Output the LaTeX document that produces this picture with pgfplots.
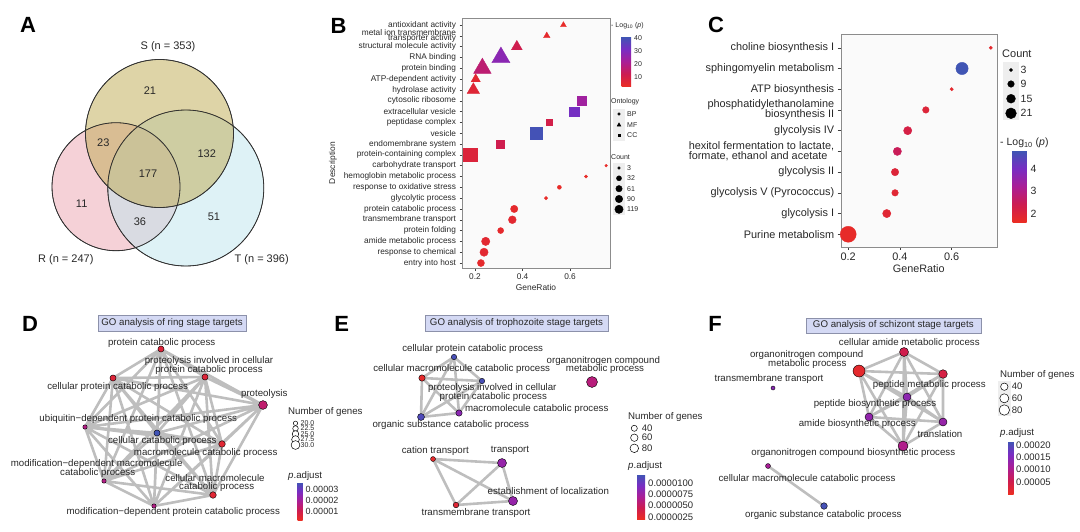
\documentclass[border=0pt]{standalone}
\usepackage{fontspec}
\setmainfont{Liberation Sans}
\usepackage{pgfplots}
\pgfplotsset{compat=1.18}

\newcommand\fsz[2]{\fontsize{#1}{#2}\selectfont}
% two-line tick labels with tight line spacing
\newcommand\twoR[3]{\vbox{\baselineskip=#1\lineskiplimit=-\maxdimen\lineskip=0pt\halign{\hfil##\cr#2\cr#3\cr}}}
\newcommand\twoL[3]{\vbox{\baselineskip=#1\lineskiplimit=-\maxdimen\lineskip=0pt\halign{##\hfil\cr#2\cr#3\cr}}}

\definecolor{vennS}{RGB}{190,170,80}
\definecolor{vennR}{RGB}{236,163,176}
\definecolor{vennT}{RGB}{190,229,237}
\definecolor{edge}{RGB}{190,190,190}
\definecolor{titlebox}{RGB}{212,217,244}
\definecolor{titleedge}{RGB}{140,145,170}
\definecolor{keybg}{RGB}{238,238,238}
\definecolor{txt}{RGB}{40,40,40}

\pgfplotsset{
  every axis/.append style={/pgf/number format/assume math mode=true},
  colormap={gg}{rgb255=(235,45,35) rgb255=(205,28,80) rgb255=(170,30,150) rgb255=(120,45,195) rgb255=(62,86,180)},
  canvas/.style={hide axis, scale only axis, width=1080pt, height=532pt,
    xmin=0, xmax=1080, ymin=0, ymax=532, y dir=reverse, clip=false,
    at={(0pt,0pt)}, anchor=north west},
  netnode/.style={scatter, only marks, mark=*, point meta=\thisrow{p},
    scatter/use mapped color={draw=black, fill=mapped color},
    mark options={line width=0.4pt},
    scatter/@pre marker code/.append style={/tikz/mark size=\msz}},
  netlab/.style={draw=none, mark=none, point meta=explicit symbolic, nodes near coords,
    every node near coord/.append style={anchor=center, inner sep=0pt, font=\fsz{9.7}{10}, text=txt}},
  netedge/.style={draw=edge, line width=2.6pt, line join=round, line cap=round, mark=none},
  cbar/.style={at={(parent axis.north west)}, anchor=north west, scale only axis,
    axis line style={draw=none}, major tick length=0pt, scaled y ticks=false,
    yticklabel style={inner sep=0pt, xshift=3pt, text=txt}},
  key/.style={only marks, mark=*, mark options={draw=black, fill=white, line width=0.5pt}},
}

\begin{document}
\begin{tikzpicture}
\useasboundingbox (0,0) rectangle (1080pt,-532pt);

%================ canvas: panel A, letters, legends ================
\begin{axis}[canvas]
% Venn fills
\addplot[only marks, mark=*, mark size=64pt, mark options={draw=none, fill=vennR, fill opacity=0.5}] coordinates {(116,186.7)};
\addplot[only marks, mark=*, mark size=78pt, mark options={draw=none, fill=vennT, fill opacity=0.5}] coordinates {(185.8,188)};
\addplot[only marks, mark=*, mark size=74pt, mark options={draw=none, fill=vennS, fill opacity=0.5}] coordinates {(159.5,133.5)};
% Venn outlines
\addplot[only marks, mark=o, mark size=64pt, mark options={draw=black!80, line width=0.8pt}] coordinates {(116,186.7)};
\addplot[only marks, mark=o, mark size=78pt, mark options={draw=black!80, line width=0.8pt}] coordinates {(185.8,188)};
\addplot[only marks, mark=o, mark size=74pt, mark options={draw=black!80, line width=0.8pt}] coordinates {(159.5,133.5)};
% Venn counts
\addplot[draw=none, mark=none, point meta=explicit symbolic, nodes near coords,
  every node near coord/.append style={anchor=center, inner sep=0pt, font=\fsz{11}{12}, text=txt}]
  coordinates {(150,91)[21] (103.3,142.7)[23] (206.7,154)[132] (148,174)[177] (81.7,204)[11] (140,221.7)[36] (214,216.5)[51]};
\node[font=\fsz{11}{12}, text=txt] at (axis cs:168,47) {S (n = 353)};
\node[font=\fsz{11}{12}, text=txt] at (axis cs:65.8,260) {R (n = 247)};
\node[font=\fsz{11}{12}, text=txt] at (axis cs:261.7,260) {T (n = 396)};

% panel letters
\node[font=\fsz{22}{22}\bfseries] at (axis cs:28,25) {A};
\node[font=\fsz{22}{22}\bfseries] at (axis cs:338.5,25.5) {B};
\node[font=\fsz{22}{22}\bfseries] at (axis cs:716,24.5) {C};
\node[font=\fsz{22}{22}\bfseries] at (axis cs:30,324) {D};
\node[font=\fsz{22}{22}\bfseries] at (axis cs:341.7,324) {E};
\node[font=\fsz{22}{22}\bfseries] at (axis cs:715,324) {F};

% legends of B
\node[anchor=west, font=\fsz{7}{8}, text=txt, inner sep=0pt] at (axis cs:611,25.5) {- Log\textsubscript{10} (\textit{p})};
\node[anchor=west, font=\fsz{7}{8}, text=txt, inner sep=0pt] at (axis cs:611,102) {Ontology};
\fill[keybg] (axis cs:613,108.5) rectangle (axis cs:625,140.5);
\addplot[only marks, mark=*, mark size=1.3pt, black] coordinates {(619,114)};
\addplot[only marks, mark=triangle*, mark size=2.2pt, black] coordinates {(619,125)};
\addplot[only marks, mark=square*, mark size=1.3pt, black] coordinates {(619,135)};
\node[anchor=west, font=\fsz{7}{8}, text=txt, inner sep=0pt] at (axis cs:627,114) {BP};
\node[anchor=west, font=\fsz{7}{8}, text=txt, inner sep=0pt] at (axis cs:627,125) {MF};
\node[anchor=west, font=\fsz{7}{8}, text=txt, inner sep=0pt] at (axis cs:627,135) {CC};
\node[anchor=west, font=\fsz{7}{8}, text=txt, inner sep=0pt] at (axis cs:611,157) {Count};
\fill[keybg] (axis cs:613,162.5) rectangle (axis cs:625,214.5);
\addplot[only marks, mark=*, mark size=1.34pt, black] coordinates {(619,168)};
\addplot[only marks, mark=*, mark size=2.55pt, black] coordinates {(619,178.3)};
\addplot[only marks, mark=*, mark size=3.22pt, black] coordinates {(619,188.7)};
\addplot[only marks, mark=*, mark size=3.74pt, black] coordinates {(619,199)};
\addplot[only marks, mark=*, mark size=4.18pt, black] coordinates {(619,209.3)};
\node[anchor=west, font=\fsz{7}{8}, text=txt, inner sep=0pt] at (axis cs:627,168) {3};
\node[anchor=west, font=\fsz{7}{8}, text=txt, inner sep=0pt] at (axis cs:627,178.3) {32};
\node[anchor=west, font=\fsz{7}{8}, text=txt, inner sep=0pt] at (axis cs:627,188.7) {61};
\node[anchor=west, font=\fsz{7}{8}, text=txt, inner sep=0pt] at (axis cs:627,199) {90};
\node[anchor=west, font=\fsz{7}{8}, text=txt, inner sep=0pt] at (axis cs:627,209.3) {119};

% legends of C
\node[anchor=west, font=\fsz{11}{12}, text=txt, inner sep=0pt] at (axis cs:1002,54) {Count};
\fill[keybg] (axis cs:1003,62) rectangle (axis cs:1019,120);
\addplot[only marks, mark=*, mark size=1.65pt, black] coordinates {(1011,70)};
\addplot[only marks, mark=*, mark size=3.3pt, black] coordinates {(1011,84)};
\addplot[only marks, mark=*, mark size=4.43pt, black] coordinates {(1011,98.7)};
\addplot[only marks, mark=*, mark size=5.36pt, black] coordinates {(1011,113.3)};
\node[anchor=west, font=\fsz{10.5}{11}, text=txt, inner sep=0pt] at (axis cs:1020.5,70) {3};
\node[anchor=west, font=\fsz{10.5}{11}, text=txt, inner sep=0pt] at (axis cs:1020.5,84) {9};
\node[anchor=west, font=\fsz{10.5}{11}, text=txt, inner sep=0pt] at (axis cs:1020.5,98.7) {15};
\node[anchor=west, font=\fsz{10.5}{11}, text=txt, inner sep=0pt] at (axis cs:1020.5,113.3) {21};
\node[anchor=west, font=\fsz{10.5}{11}, text=txt, inner sep=0pt] at (axis cs:1000,142.7) {- Log\textsubscript{10} (\textit{p})};

% titles of D, E, F
\node[fill=titlebox, draw=titleedge, line width=0.5pt, minimum width=148pt, minimum height=16pt, inner sep=0pt, font=\fsz{9.7}{10}, text=txt] at (axis cs:172,323) {GO analysis of ring stage targets};
\node[fill=titlebox, draw=titleedge, line width=0.5pt, minimum width=183pt, minimum height=16pt, inner sep=0pt, font=\fsz{9.7}{10}, text=txt] at (axis cs:516.5,323.3) {GO analysis of trophozoite stage targets};
\node[fill=titlebox, draw=titleedge, line width=0.5pt, minimum width=175pt, minimum height=15pt, inner sep=0pt, font=\fsz{9.7}{10}, text=txt] at (axis cs:893.3,325.3) {GO analysis of schizont stage targets};

% legends of D
\node[anchor=west, font=\fsz{9.7}{10}, text=txt, inner sep=0pt] at (axis cs:288,412) {Number of genes};
\addplot[key, mark size=2.2pt] coordinates {(295.5,423.3)};
\addplot[key, mark size=2.75pt] coordinates {(295.5,428.5)};
\addplot[key, mark size=3.3pt] coordinates {(295.5,434)};
\addplot[key, mark size=3.85pt] coordinates {(295.5,439.5)};
\addplot[key, mark size=4.4pt] coordinates {(295.5,445)};
\node[anchor=west, font=\fsz{7}{7}, text=txt, inner sep=0pt] at (axis cs:300.5,423.3) {20.0};
\node[anchor=west, font=\fsz{7}{7}, text=txt, inner sep=0pt] at (axis cs:300.5,428.5) {22.5};
\node[anchor=west, font=\fsz{7}{7}, text=txt, inner sep=0pt] at (axis cs:300.5,434) {25.0};
\node[anchor=west, font=\fsz{7}{7}, text=txt, inner sep=0pt] at (axis cs:300.5,439.5) {27.5};
\node[anchor=west, font=\fsz{7}{7}, text=txt, inner sep=0pt] at (axis cs:300.5,445) {30.0};
\node[anchor=west, font=\fsz{9.7}{10}, text=txt, inner sep=0pt] at (axis cs:288,476) {\textit{p}.adjust};

% legends of E
\node[anchor=west, font=\fsz{9.7}{10}, text=txt, inner sep=0pt] at (axis cs:628,417.3) {Number of genes};
\addplot[key, mark size=3.04pt] coordinates {(634.3,428.3)};
\addplot[key, mark size=3.72pt] coordinates {(634.3,437.7)};
\addplot[key, mark size=4.29pt] coordinates {(634.3,448.3)};
\node[anchor=west, font=\fsz{9.5}{10}, text=txt, inner sep=0pt] at (axis cs:641.7,428.3) {40};
\node[anchor=west, font=\fsz{9.5}{10}, text=txt, inner sep=0pt] at (axis cs:641.7,437.7) {60};
\node[anchor=west, font=\fsz{9.5}{10}, text=txt, inner sep=0pt] at (axis cs:641.7,448.3) {80};
\node[anchor=west, font=\fsz{9.7}{10}, text=txt, inner sep=0pt] at (axis cs:628,466) {\textit{p}.adjust};

% legends of F
\node[anchor=west, font=\fsz{9.7}{10}, text=txt, inner sep=0pt] at (axis cs:1000,375) {Number of genes};
\fill[keybg] (axis cs:998,381) rectangle (axis cs:1010.5,416);
\addplot[key, mark size=3.7pt] coordinates {(1004.3,386.7)};
\addplot[key, mark size=4.53pt] coordinates {(1004.3,398.3)};
\addplot[key, mark size=5.23pt] coordinates {(1004.3,410)};
\node[anchor=west, font=\fsz{9.5}{10}, text=txt, inner sep=0pt] at (axis cs:1011.7,386.7) {40};
\node[anchor=west, font=\fsz{9.5}{10}, text=txt, inner sep=0pt] at (axis cs:1011.7,398.3) {60};
\node[anchor=west, font=\fsz{9.5}{10}, text=txt, inner sep=0pt] at (axis cs:1011.7,410) {80};
\node[anchor=west, font=\fsz{9.7}{10}, text=txt, inner sep=0pt] at (axis cs:1000,432.7) {\textit{p}.adjust};
\end{axis}

%================ panel B ================
\begin{axis}[at={(462pt,-18pt)}, anchor=north west, scale only axis,
  width=148pt, height=250pt,
  xmin=0.1453, xmax=0.768, ymin=0.54, ymax=23.65,
  xtick={0.2,0.4,0.6}, ytick={1,...,23},
  yticklabels={entry into host, response to chemical, amide metabolic process, protein folding,
    transmembrane transport, protein catabolic process, glycolytic process, response to oxidative stress,
    hemoglobin metabolic process, carbohydrate transport, protein-containing complex, endomembrane system,
    vesicle, peptidase complex, extracellular vesicle, cytosolic ribosome, hydrolase activity,
    ATP-dependent activity, protein binding, RNA binding, structural molecule activity,
    {\twoR{5.8pt}{metal ion transmembrane}{transporter activity}}, antioxidant activity},
  tick align=outside, tick pos=left, major tick length=2.5pt,
  tick style={black!75, line width=0.5pt},
  xticklabel style={font=\fsz{8.3}{9}, text=txt},
  yticklabel style={font=\fsz{8.3}{8.3}, text=txt},
  xlabel={GeneRatio}, xlabel style={font=\fsz{8.4}{9}, text=txt, yshift=2pt},
  ylabel={Description}, ylabel style={font=\fsz{8.4}{9}, text=txt, at={(ticklabel cs:0.42)}},
  axis background/.style={fill=black!2},
  axis line style={black!45},
  point meta min=3, point meta max=41,
  colorbar, colorbar style={at={(parent axis.north east)}, anchor=north west, scale only axis,
    xshift=3pt, yshift=-18.7pt, width=9.5pt, height=50pt,
    ytick={10,20,30,40}, yticklabels={10,20,30,40},
    axis line style={draw=none}, major tick length=0pt,
    yticklabel style={font=\fsz{7}{7}, inner sep=0pt, xshift=3pt, text=txt}},
]
% MF: triangles
\addplot[scatter, only marks, mark=triangle*, point meta=\thisrow{c},
  scatter/use mapped color={draw=mapped color, fill=mapped color},
  visualization depends on={2.5*(0.8+0.31*sqrt(\thisrow{n})) \as \msz},
  scatter/@pre marker code/.append style={/tikz/mark size=\msz}]
  table[row sep=\\] {x y c n\\
  0.572 23 4 3\\ 0.502 22 5 5\\ 0.376 21 12 30\\ 0.309 20 28 119\\
  0.231 19 17 110\\ 0.203 18 6 18\\ 0.193 17 7 45\\};
% CC: squares
\addplot[scatter, only marks, mark=square*, point meta=\thisrow{c},
  scatter/use mapped color={draw=mapped color, fill=mapped color},
  visualization depends on={1.6*(0.8+0.31*sqrt(\thisrow{n})) \as \msz},
  scatter/@pre marker code/.append style={/tikz/mark size=\msz}]
  table[row sep=\\] {x y c n\\
  0.649 16 24 35\\ 0.617 15 32 45\\ 0.513 14 11 10\\ 0.456 13 40 90\\
  0.305 12 12 35\\ 0.179 11 8 119\\};
% BP: circles
\addplot[scatter, only marks, mark=*, point meta=\thisrow{c},
  scatter/use mapped color={draw=mapped color, fill=mapped color},
  visualization depends on={0.8+0.31*sqrt(\thisrow{n}) \as \msz},
  scatter/@pre marker code/.append style={/tikz/mark size=\msz}]
  table[row sep=\\] {x y c n\\
  0.752 10 4 3\\ 0.667 9 4 8\\ 0.555 8 4 15\\ 0.499 7 4 8\\ 0.365 6 5 86\\
  0.357 5 6 100\\ 0.308 4 5 51\\ 0.245 3 6 119\\ 0.238 2 6 115\\ 0.225 1 5 77\\};
\end{axis}

%================ panel C ================
\begin{axis}[at={(840.7pt,-34.3pt)}, anchor=north west, scale only axis,
  width=156pt, height=212.4pt,
  xmin=0.171, xmax=0.774, ymin=0.4, ymax=10.65,
  xtick={0.2,0.4,0.6}, ytick={1,...,10},
  yticklabels={Purine metabolism, glycolysis I, glycolysis V (Pyrococcus), glycolysis II,
    {\twoL{10.4pt}{hexitol fermentation to lactate,}{formate, ethanol and acetate}},
    glycolysis IV, {\twoR{10.4pt}{phosphatidylethanolamine}{biosynthesis II}},
    ATP biosynthesis, sphingomyelin metabolism, choline biosynthesis I},
  tick align=outside, tick pos=left, major tick length=3pt,
  tick style={black!75, line width=0.5pt},
  xticklabel style={font=\fsz{10.9}{11}, text=txt},
  yticklabel style={font=\fsz{10.9}{11}, text=txt},
  xlabel={GeneRatio}, xlabel style={font=\fsz{10.8}{11}, text=txt, yshift=3pt},
  axis background/.style={fill=blue!2!black!2},
  axis line style={black!45},
  point meta min=1.6, point meta max=4.82,
  colorbar, colorbar style={at={(parent axis.north east)}, anchor=north west, scale only axis,
    xshift=7.3pt, yshift=-116.4pt, width=14pt, height=71.6pt,
    ytick={2,3,4}, yticklabels={2,3,4},
    axis line style={draw=none}, major tick length=0pt,
    yticklabel style={font=\fsz{10.5}{11}, inner sep=0pt, xshift=4pt, text=txt}},
]
\addplot[scatter, only marks, mark=*, point meta=\thisrow{c},
  scatter/use mapped color={draw=mapped color, fill=mapped color},
  visualization depends on={-2.13+2.21*sqrt(\thisrow{n}) \as \msz},
  scatter/@pre marker code/.append style={/tikz/mark size=\msz}]
  table[row sep=\\] {x y c n\\
  0.751 10 1.8 3\\ 0.640 9 4.8 14\\ 0.600 8 1.8 3\\ 0.500 7 2.0 6\\
  0.430 6 2.2 8\\ 0.390 5 2.5 8\\ 0.381 4 2.0 7\\ 0.381 3 1.9 6\\
  0.349 2 1.9 8\\ 0.200 1 1.7 21\\};
\end{axis}

%================ panel D ================
\begin{axis}[canvas, point meta min=1.8e-6, point meta max=3.64e-5,
  colorbar, colorbar style={cbar, xshift=289pt, yshift=-482pt, width=5pt, height=38pt,
    ytick={1e-5,2e-5,3e-5}, yticklabels={0.00001,0.00002,0.00003},
    yticklabel style={font=\fsz{9}{9}}}]
\addplot[netedge] coordinates {
(161,349)(205,377)(161,349)(113,378)(161,349)(263,405)(161,349)(85,427)(161,349)(157,433)(161,349)(222,444)(161,349)(104,481)(161,349)(213,495)(161,349)(154,506)(161,349)
(205,377)(113,378)(205,377)(263,405)(205,377)(85,427)(205,377)(157,433)(205,377)(222,444)(205,377)(104,481)(205,377)(213,495)(205,377)(154,506)(205,377)
(113,378)(263,405)(113,378)(85,427)(113,378)(157,433)(113,378)(222,444)(113,378)(104,481)(113,378)(213,495)(113,378)(154,506)(113,378)
(263,405)(85,427)(263,405)(157,433)(263,405)(222,444)(263,405)(104,481)(263,405)(213,495)(263,405)(154,506)(263,405)
(85,427)(157,433)(85,427)(222,444)(85,427)(104,481)(85,427)(213,495)(85,427)(154,506)(85,427)
(157,433)(222,444)(157,433)(104,481)(157,433)(213,495)(157,433)(154,506)(157,433)
(222,444)(104,481)(222,444)(213,495)(222,444)(154,506)(222,444)
(104,481)(213,495)(104,481)(154,506)(213,495)};
\addplot[netnode, visualization depends on={2.2+0.22*(\thisrow{n}-20) \as \msz}]
  table[row sep=\\] {x y p n\\
  161 349 6e-6 24\\ 205 377 6e-6 24\\ 113 378 6e-6 24\\ 263 405 1.4e-5 30\\
  85 427 1.7e-5 20\\ 157 433 3.6e-5 24\\ 222 444 5e-6 25\\ 104 481 1.7e-5 20\\
  213 495 5e-6 25\\ 154 506 1.7e-5 20\\};
\addplot[netlab] coordinates {
(161.7,342.7) [protein catabolic process]
(209,361) [proteolysis involved in cellular]
(209,370) [protein catabolic process]
(117.7,387.3) [cellular protein catabolic process]
(264.3,394) [proteolysis]
(138.3,419) [ubiquitin−dependent protein catabolic process]
(162.3,441) [cellular catabolic process]
(205.7,453.3) [macromolecule catabolic process]
(96.7,464) [modification−dependent macromolecule]
(97.7,472.7) [catabolic process]
(215,477.7) [cellular macromolecule]
(216.7,486.7) [catabolic process]
(173.3,512.3) [modification−dependent protein catabolic process]};
\end{axis}

%================ panel E ================
\begin{axis}[canvas, point meta min=2e-6, point meta max=1.19e-5,
  colorbar, colorbar style={cbar, xshift=628.5pt, yshift=-474.3pt, width=8pt, height=44.7pt,
    ytick={2.5e-6,5e-6,7.5e-6,1e-5}, yticklabels={0.0000025,0.0000050,0.0000075,0.0000100},
    yticklabel style={font=\fsz{9.5}{9.5}}}]
\addplot[netedge] coordinates {(454,357)(422,378)(482,381)(454,357)(459,413)(422,378)(421,417)(482,381)(459,413)(421,417)(454,357)};
\addplot[netedge] coordinates {(433,459)(502,463)(513,501)(456,505)(433,459)(513,501)(502,463)(456,505)};
\addplot[netnode, visualization depends on={0.48*sqrt(\thisrow{n}) \as \msz}]
  table[row sep=\\] {x y p n\\
  454 357 1.15e-5 32\\ 422 378 2.5e-6 44\\ 482 381 1.15e-5 32\\ 459 413 8.5e-6 44\\
  421 417 1.12e-5 53\\ 592 382 6e-6 131\\ 433 459 2.5e-6 27\\ 502 463 8e-6 88\\
  513 501 8e-6 88\\ 456 505 3e-6 34\\};
\addplot[netlab] coordinates {
(472.7,349.3) [cellular protein catabolic process]
(461.7,369.3) [cellular macromolecule catabolic process]
(492.3,387.7) [proteolysis involved in cellular]
(493.3,396.7) [protein catabolic process]
(536.7,409.3) [macromolecule catabolic process]
(450.7,424.7) [organic substance catabolic process]
(603.3,360.5) [organonitrogen compound]
(605,369) [metabolic process]
(435.3,450.7) [cation transport]
(510,450.7) [transport]
(548.3,490.7) [establishment of localization]
(476,512.7) [transmembrane transport]};
\end{axis}

%================ panel F ================
\begin{axis}[canvas, point meta min=0, point meta max=2.17e-4,
  colorbar, colorbar style={cbar, xshift=999.5pt, yshift=-441pt, width=5.5pt, height=53pt,
    ytick={5e-5,1e-4,1.5e-4,2e-4}, yticklabels={0.00005,0.00010,0.00015,0.00020},
    yticklabel style={font=\fsz{9.5}{9.5}, xshift=-0.5pt}}]
\addplot[netedge] coordinates {(904,352)(859,371)(943,374)(907,397)(869,417)(943,422)(903,446)(904,352)(943,374)(869,417)(903,446)(859,371)(907,397)(943,422)(904,352)(907,397)(903,446)(943,374)(943,422)(859,371)(869,417)(904,352)};
\addplot[netedge] coordinates {(768,466)(824,506)};
\addplot[netnode, visualization depends on={0.585*sqrt(\thisrow{n}) \as \msz}]
  table[row sep=\\] {x y p n\\
  904 352 5e-5 59\\ 859 371 1.2e-5 105\\ 943 374 4e-5 54\\ 907 397 1.4e-4 47\\
  869 417 1.35e-4 47\\ 943 422 1.3e-4 47\\ 903 446 1e-4 73\\ 773 388 1.45e-4 12\\
  768 466 1.1e-4 18\\ 824 506 2.1e-4 32\\};
\addplot[netlab] coordinates {
(909.3,342.7) [cellular amide metabolic process]
(806.7,355) [organonitrogen compound]
(807.3,364) [metabolic process]
(929.3,385.3) [peptide metabolic process]
(769,379) [transmembrane transport]
(875,404) [peptide biosynthetic process]
(857.3,424.3) [amide biosynthetic process]
(940,433.7) [translation]
(853.3,453.3) [organonitrogen compound biosynthetic process]
(807,479) [cellular macromolecule catabolic process]
(823.3,515) [organic substance catabolic process]};
\end{axis}
\end{tikzpicture}
\end{document}
